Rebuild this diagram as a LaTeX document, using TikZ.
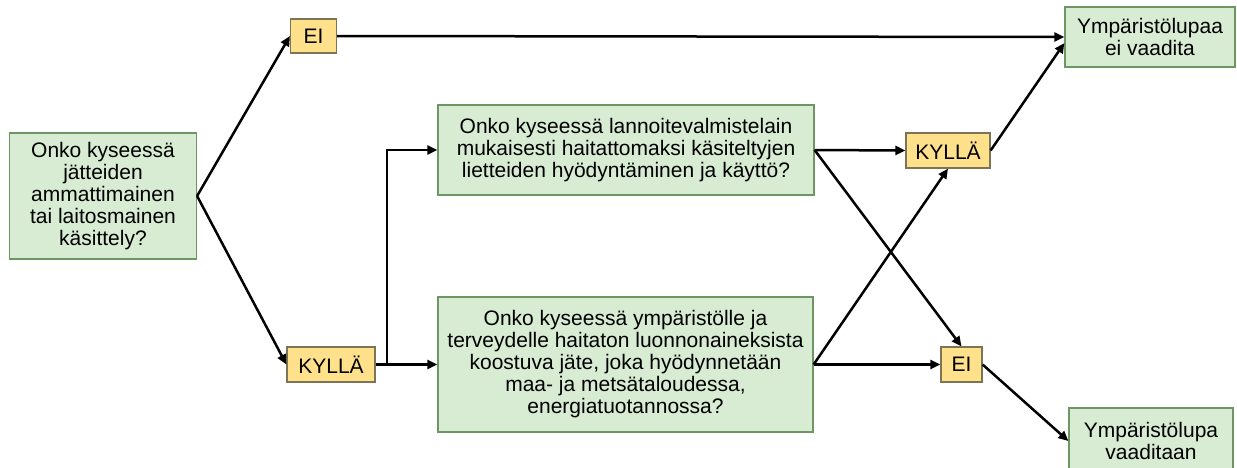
\documentclass[tikz,border=0pt]{standalone}
\usepackage{fontspec}
\setmainfont{Liberation Sans}
\usetikzlibrary{arrows.meta}
\definecolor{boxgreen}{RGB}{216,235,211}
\definecolor{edgegreen}{RGB}{110,150,100}
\definecolor{boxyellow}{RGB}{255,225,140}
\definecolor{edgeyellow}{RGB}{125,115,85}
\tikzstyle{question}=[draw=edgegreen,fill=boxgreen,line width=1.2pt,align=center,inner sep=0pt,font=\fontsize{21}{22}\selectfont]
\tikzstyle{answer}=[draw=edgeyellow,fill=boxyellow,line width=1.2pt,inner sep=0pt,font=\fontsize{21}{22}\selectfont]
\tikzstyle{flow}=[-{Triangle[length=10pt,width=9pt]},line width=2.5pt]

\begin{document}
\begin{tikzpicture}[x=1pt,y=-1pt]
  \useasboundingbox (0,0) rectangle (1237,467);
  % questions
  \node[question,minimum width=187pt,minimum height=126pt] (start) at (103,196) {Onko kyseessä\\jätteiden\\ammattimainen\\tai laitosmainen\\käsittely?};
  \node[question,minimum width=376pt,minimum height=90pt] (qup) at (626,150) {Onko kyseessä lannoitevalmistelain\\mukaisesti haitattomaksi käsiteltyjen\\lietteiden hyödyntäminen ja käyttö?};
  \node[question,minimum width=375pt,minimum height=135pt] (qlow) at (625.5,364.5) {Onko kyseessä ympäristölle ja\\terveydelle haitaton luonnonaineksista\\koostuva jäte, joka hyödynnetään\\maa- ja metsätaloudessa,\\energiatuotannossa?};
  % answers
  \node[answer,minimum width=46pt,minimum height=34pt] (ei1) at (313.5,36) {EI};
  \node[answer,minimum width=88pt,minimum height=35pt] (kylla1) at (331,364.5) {KYLLÄ};
  \node[answer,minimum width=84pt,minimum height=35pt] (kylla2) at (948,150.5) {KYLLÄ};
  \node[answer,minimum width=41pt,minimum height=35pt] (ei2) at (961.5,364.5) {EI};
  % results
  \node[question,minimum width=170pt,minimum height=60pt] (res1) at (1150,37) {Ympäristölupaa\\ei vaadita};
  \node[question,minimum width=164pt,minimum height=66pt] (res2) at (1151,441) {Ympäristölupa\\vaaditaan};
  % connectors
  \draw[flow] (start.east) -- (ei1.west);
  \draw[flow] (start.east) -- (kylla1.west);
  \draw[flow] (kylla1.east) -- (qlow.west);
  \coordinate (split) at (387,364.5);
  \draw[flow] (split) |- (qup.west);
  \draw[flow] (ei1.east) -- (res1.west);
  \draw[flow] (qup.east) -- (kylla2.west);
  \draw[flow] (qup.east) -- (ei2.north);
  \draw[flow] (qlow.east) -- (ei2.west);
  \draw[flow] (qlow.east) -- (kylla2.south);
  \draw[flow] (kylla2.east) -- ([yshift=-6pt]res1.west);
  \draw[flow] (ei2.east) -- (res2.west);
\end{tikzpicture}
\end{document}
